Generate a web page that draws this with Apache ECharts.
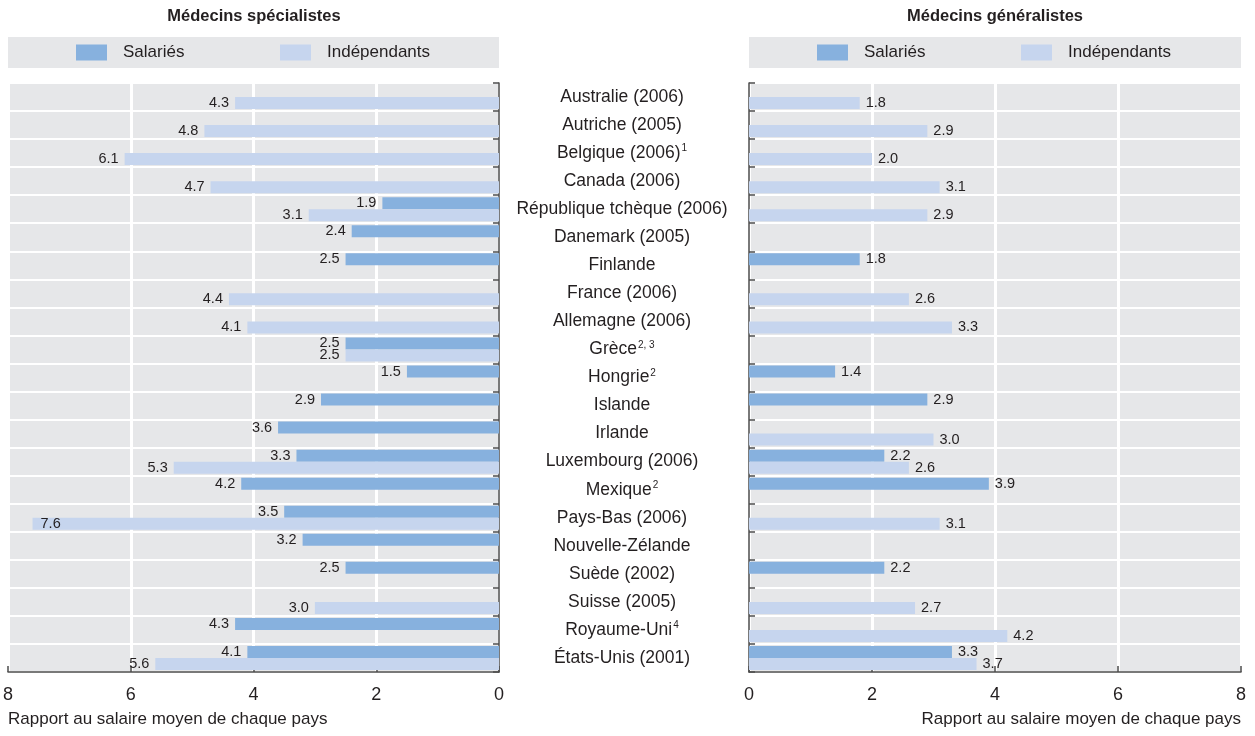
<!DOCTYPE html>
<html><head><meta charset="utf-8">
<script src="https://cdn.jsdelivr.net/npm/echarts@6.0.0/dist/echarts.min.js"></script>
<style>html,body{margin:0;padding:0;background:#fff}#c{width:1255px;height:736px}</style>
</head><body><div id="c"></div>
<script>
const countries = ['Australie (2006)','Autriche (2005)','Belgique (2006)','Canada (2006)','République tchèque (2006)','Danemark (2005)','Finlande','France (2006)','Allemagne (2006)','Grèce','Hongrie','Islande','Irlande','Luxembourg (2006)','Mexique','Pays-Bas (2006)','Nouvelle-Zélande','Suède (2002)','Suisse (2005)','Royaume-Uni','États-Unis (2001)'];
const notes = ['','','1','','','','','','','2, 3','2','','','','2','','','','','4',''];
const specSalaried = [null,null,null,null,1.9,2.4,2.5,null,null,2.5,1.5,2.9,3.6,3.3,4.2,3.5,3.2,2.5,null,4.3,4.1];
const specIndep    = [4.3,4.8,6.1,4.7,3.1,null,null,4.4,4.1,2.5,null,null,null,5.3,null,7.6,null,null,3.0,null,5.6];
const genSalaried  = [null,null,null,null,null,null,1.8,null,null,null,1.4,2.9,null,2.2,3.9,null,null,2.2,null,null,3.3];
const genIndep     = [1.8,2.9,2.0,3.1,2.9,null,null,2.6,3.3,null,null,null,3.0,2.6,null,3.1,null,null,2.7,4.2,3.7];
const seriesNames = ['Salariés','Indépendants'];
const panelTitles = ['Médecins spécialistes','Médecins généralistes'];
const axisTitle = 'Rapport au salaire moyen de chaque pays';

const FONT = "'Liberation Sans','Arial',sans-serif";
const TXT = '#231f20';
const C_SAL = '#87b1de';
const C_IND = '#c6d5ee';
const BG = '#e6e7e9';
const AX = '#4d4d4d';
const AXIS_MAX = 8;

const chart = echarts.init(document.getElementById('c'), null, {renderer:'canvas'});

function xAx(inverse, idx){
  return {type:'value', gridIndex:idx, min:0, max:AXIS_MAX, interval:2, inverse:inverse,
    axisLine:{show:true, onZero:false, lineStyle:{color:AX, width:1.5}},
    axisTick:{show:true, inside:true, length:6, lineStyle:{color:AX, width:1.5}},
    axisLabel:{fontFamily:FONT, fontSize:18, color:TXT, margin:14},
    splitLine:{show:true, lineStyle:{color:'#fff', width:3}}};
}
function yAx(pos, idx, showLabel){
  return {type:'category', gridIndex:idx, data:countries, inverse:true, position:pos,
    axisLine:{show:true, lineStyle:{color:AX, width:1.5}},
    axisTick:{show:true, inside:true, length:6, interval:0, alignWithLabel:false, lineStyle:{color:AX, width:1.5}},
    axisLabel:{show:showLabel, interval:0, margin:123, align:'center', fontFamily:FONT, fontSize:17.5, color:TXT,
      formatter:(v,i)=> notes[i] ? v + '{sup|' + notes[i] + '}' : v,
      rich:{sup:{fontFamily:FONT, fontSize:10, color:TXT, verticalAlign:'top', padding:[0,0,9,1]}}},
    splitLine:{show:true, interval:0, lineStyle:{color:'#fff', width:2}}};
}
function barS(name, values, idx, color, pos){
  // long bars that reach the panel edge carry their label inside
  const data = values.map(v => (v != null && v > AXIS_MAX - 1) ? {value:v, label:{position:'insideLeft', distance:8}} : v);
  return {type:'bar', name:name, data:data, xAxisIndex:idx, yAxisIndex:idx, barWidth:12, barGap:'0%',
    itemStyle:{color:color}, silent:true,
    label:{show:true, position:pos, distance:6, fontFamily:FONT, fontSize:14.5, color:TXT,
      formatter:p=>p.value==null?'':p.value.toFixed(1)}};
}
function leg(name, left){
  return {data:[name], left:left, top:44, padding:0, itemWidth:31, itemHeight:16, icon:'rect', selectedMode:false,
    textStyle:{fontFamily:FONT, fontSize:17, color:TXT, padding:[0,0,0,11]}};
}

chart.setOption({
  animation:false,
  title:[
    {text:panelTitles[0], left:254, top:8, padding:0, textAlign:'center', textStyle:{fontFamily:FONT, fontSize:16.5, fontWeight:'bold', color:TXT}},
    {text:panelTitles[1], left:995, top:8, padding:0, textAlign:'center', textStyle:{fontFamily:FONT, fontSize:16.5, fontWeight:'bold', color:TXT}},
    {text:axisTitle, left:8, top:711, padding:0, textStyle:{fontFamily:FONT, fontSize:17, fontWeight:'normal', color:TXT}},
    {text:axisTitle, right:14, top:711, padding:0, textStyle:{fontFamily:FONT, fontSize:17, fontWeight:'normal', color:TXT}}
  ],
  graphic:[
    {type:'rect', shape:{x:8, y:37, width:491, height:31}, style:{fill:BG}, z:0},
    {type:'rect', shape:{x:749, y:37, width:492, height:31}, style:{fill:BG}, z:0}
  ],
  legend:[leg(seriesNames[0],76), leg(seriesNames[1],280), leg(seriesNames[0],817), leg(seriesNames[1],1021)],
  grid:[
    {left:8, top:83, width:491, height:589, show:true, backgroundColor:BG, borderWidth:0},
    {left:749, top:83, width:492, height:589, show:true, backgroundColor:BG, borderWidth:0}
  ],
  xAxis:[xAx(true,0), xAx(false,1)],
  yAxis:[yAx('right',0,true), yAx('left',1,false)],
  series:[
    barS(seriesNames[0], specSalaried, 0, C_SAL, 'left'),
    barS(seriesNames[1], specIndep, 0, C_IND, 'left'),
    barS(seriesNames[0], genSalaried, 1, C_SAL, 'right'),
    barS(seriesNames[1], genIndep, 1, C_IND, 'right')
  ]
});
</script></body></html>
